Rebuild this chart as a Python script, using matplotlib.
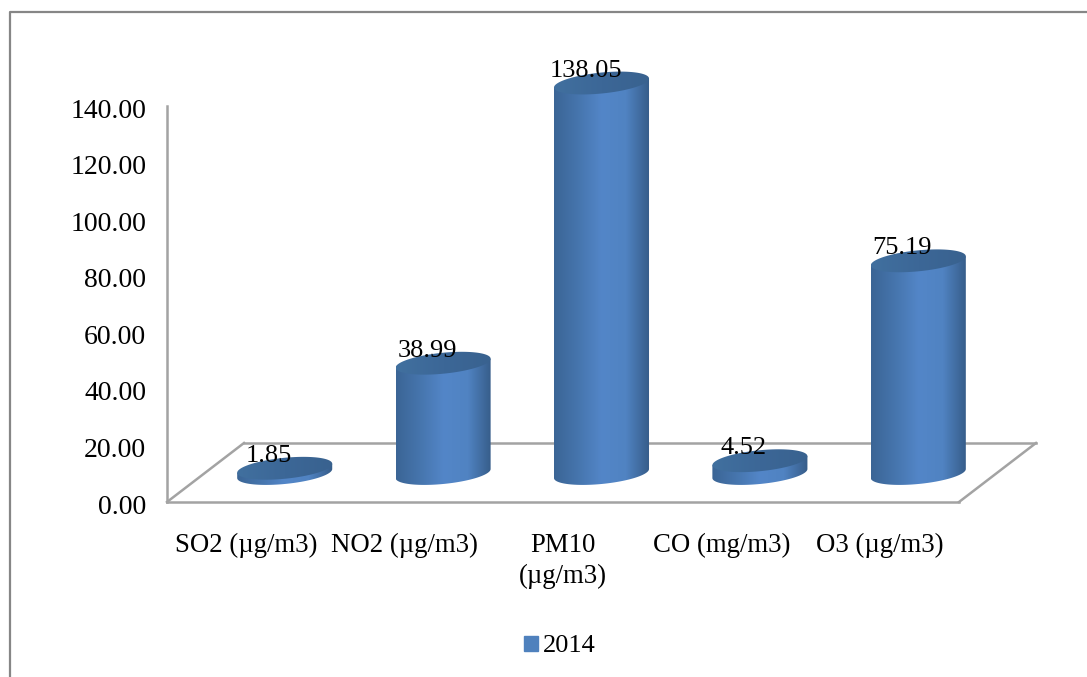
import numpy as np
import matplotlib
matplotlib.use("Agg")
import matplotlib.pyplot as plt
from matplotlib.colors import LinearSegmentedColormap
from matplotlib.lines import Line2D
from matplotlib.patches import Patch, Polygon
from matplotlib.transforms import ScaledTranslation

plt.rcParams['font.family'] = ['Liberation Serif', 'DejaVu Serif']

categories = ["SO2 (µg/m3)", "NO2 (µg/m3)", "PM10\n(µg/m3)", "CO (mg/m3)", "O3 (µg/m3)"]
values = [1.85, 38.99, 138.05, 4.52, 75.19]
y_ticks = [0, 20, 40, 60, 80, 100, 120, 140]
series_name = "2014"

W, H = 1087, 677
GRAY = "#a3a3a3"
side = LinearSegmentedColormap.from_list("side", ["#3b6595", "#4675ad", "#5386c8", "#5083c2", "#365c88"])
cap = LinearSegmentedColormap.from_list("cap", ["#41709f", "#3c6797", "#39628f"])

fig = plt.figure(figsize=(W / 100, H / 100), dpi=100)
ax = fig.add_axes([167 / W, 1 - 502 / H, (959 - 167) / W, (502 - 106) / H])
ax.patch.set_alpha(0)
ax.set_xlim(-0.5, 4.5)
ax.set_ylim(0, 140)
for s in ["top", "right"]:
    ax.spines[s].set_visible(False)
for s in ["left", "bottom"]:
    ax.spines[s].set_color(GRAY)
    ax.spines[s].set_linewidth(1.8)
ax.set_yticks(y_ticks, [f"{t:.2f}" for t in y_ticks], fontsize=20)
ax.set_xticks(range(5), categories, fontsize=19.3, linespacing=1.35)
ax.tick_params(axis="y", length=0, pad=15)
ax.tick_params(axis="x", length=0, pad=22)
nudge = ScaledTranslation(0, -2 / 100, fig.dpi_scale_trans)
for lab in ax.get_yticklabels():
    lab.set_transform(lab.get_transform() + nudge)

# floor, back edge sits up and to the right of the front edge
depth = ScaledTranslation(77 / 100, 59 / 100, fig.dpi_scale_trans)
back = ax.transData + depth
mid = ax.transData + ScaledTranslation(38.5 / 100, 28.5 / 100, fig.dpi_scale_trans)
for x0, x1, tr0, tr1 in [(-0.5, -0.5, ax.transData, back), (-0.5, 4.5, back, back), (4.5, 4.5, ax.transData, back)]:
    p0 = tr0.transform((x0, 0))
    p1 = tr1.transform((x1, 0))
    fig.add_artist(Line2D([p0[0] / W, p1[0] / W], [p0[1] / H, p1[1] / H], color=GRAY, lw=1.8, zorder=-1))

half_w = 0.3
minor = 10.5 / 2.83
shear = 4.5 / 2.83 / half_w
t = np.linspace(0, 2 * np.pi, 201)


def ellipse_pts(cx, cy):
    x = half_w * np.cos(t)
    return np.column_stack([cx + x, cy + minor * np.sin(t) + shear * x])


def extent_img(cmap, left, right, bottom, top, clip, zorder):
    grad = np.linspace(0, 1, 256).reshape(1, -1)
    im = ax.imshow(grad, cmap=cmap, extent=(left, right, bottom, top), aspect="auto",
                   transform=mid, zorder=zorder, interpolation="bilinear")
    im.set_clip_box(fig.bbox)
    im.set_clip_path(clip)


for i, v in enumerate(values):
    base = ellipse_pts(i, 0)
    top = ellipse_pts(i, v)
    lower = base[t >= np.pi]
    body = np.vstack([lower, top[0], top[100]])
    body_patch = Polygon(body, closed=True, transform=mid, fc="none", ec="none")
    ax.add_patch(body_patch)
    extent_img(side, i - half_w, i + half_w, -3 * minor, v + 3 * minor, body_patch, 3)
    top_patch = Polygon(top, closed=True, transform=mid, fc="none", ec="none")
    ax.add_patch(top_patch)
    extent_img(cap, i - half_w, i + half_w, v - 3 * minor, v + 3 * minor, top_patch, 4)
    ax.annotate(f"{v:.2f}", xy=(i, v), xycoords=mid, xytext=(-11.5, 12.5 * 0.72),
                textcoords="offset points", ha="center", va="center", fontsize=19, zorder=6,
                annotation_clip=False)

ax.set_xlim(-0.5, 4.5)
ax.set_ylim(0, 140)

# outer frame, runs off the right and bottom of the picture
fig.add_artist(Line2D([10 / W, 10 / W, 1], [0, 1 - 12 / H, 1 - 12 / H], color="#868686", lw=1.6))

fig.legend(handles=[Patch(color="#4f81bd", label=series_name)], loc="center", bbox_to_anchor=(560 / W, 1 - 646.5 / H),
           frameon=False, fontsize=19, handlelength=0.5, handleheight=0.5, handletextpad=0.2)

fig.savefig("out.png", dpi=100)
